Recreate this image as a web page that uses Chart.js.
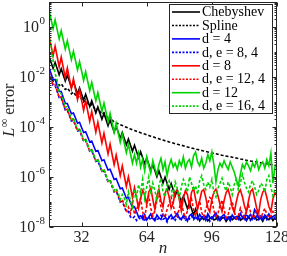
<!DOCTYPE html>
<html>
<head>
<meta charset="utf-8">
<script src="https://cdn.jsdelivr.net/npm/chart.js@4.4.1/dist/chart.umd.min.js"></script>
<style>
  html, body { margin: 0; padding: 0; background: #fff; overflow: hidden; }
  #wrap { width: 287px; height: 256px; }
</style>
</head>
<body>
<div id="wrap"><canvas id="chart" width="287" height="256"></canvas></div>
<script>
// n runs 16..128, one value per n; series stored as log10(error)
const nFirst = 16;
const xTicks = [32, 64, 96, 128];
const yTickExp = [0, -2, -4, -6, -8];

const chebLog = [
  -1.16,-1.41,-1.65,-1.42,-1.66,-1.91,-1.67,-1.92,-2.16,-1.93,
  -2.17,-2.42,-2.18,-2.43,-2.67,-2.44,-2.68,-2.93,-2.69,-2.94,
  -3.18,-2.95,-3.19,-3.44,-3.20,-3.45,-3.69,-3.46,-3.70,-3.95,
  -3.71,-3.96,-4.20,-3.97,-4.21,-4.46,-4.22,-4.47,-4.71,-4.48,
  -4.72,-4.97,-4.73,-4.98,-5.22,-4.99,-5.23,-5.48,-5.24,-5.49,
  -5.73,-5.50,-5.74,-5.99,-5.75,-6.00,-6.24,-6.01,-6.25,-6.50,
  -6.26,-6.51,-6.75,-6.52,-6.76,-7.01,-6.77,-7.02,-7.26,-7.03,
  -7.27,-7.52,-7.28,-7.53,-7.75,
  -7.62,-7.70,-7.58,-7.75,-7.66,-7.60,-7.72,-7.68,-7.57,-7.74,
  -7.65,-7.61,-7.78,-7.66,-7.59,-7.71,-7.64,-7.69,-7.56,-7.73,
  -7.67,-7.62,-7.75,-7.60,-7.70,-7.65,-7.58,-7.72,-7.68,-7.63,
  -7.77,-7.60,-7.66,-7.71,-7.59,-7.74,-7.64,-7.69
];
const splineLog = [
  -1.94,-2.06,-2.17,-2.11,-2.22,-2.34,-2.27,-2.39,-2.50,-2.44,
  -2.55,-2.67,-2.60,-2.72,-2.83,-2.77,-2.88,-3.00,-2.93,-3.05,
  -3.16,-3.10,-3.21,-3.33,-3.26,-3.38,-3.49,-3.43,-3.54,-3.66,
  -3.59,-3.72,
  -3.80,-3.84,-3.87,-3.91,-3.94,-3.98,-4.01,-4.04,-4.08,-4.11,
  -4.14,-4.17,-4.20,-4.23,-4.26,-4.28,-4.31,-4.34,-4.37,-4.39,
  -4.42,-4.45,-4.47,-4.50,-4.52,-4.55,-4.57,-4.60,-4.62,-4.64,
  -4.67,-4.69,-4.71,-4.73,-4.75,-4.78,-4.80,-4.82,-4.84,-4.86,
  -4.88,-4.90,-4.92,-4.94,-4.96,-4.98,-5.00,-5.02,-5.04,-5.05,
  -5.07,-5.09,-5.11,-5.13,-5.14,-5.16,-5.18,-5.19,-5.21,-5.23,
  -5.24,-5.26,-5.28,-5.29,-5.31,-5.33,-5.34,-5.36,-5.37,-5.39,
  -5.40,-5.42,-5.43,-5.45,-5.46,-5.48,-5.49,-5.50,-5.52,-5.53,
  -5.55
];
const d4Log = [
  -1.62,-1.86,-2.10,-2.10,-2.34,-2.58,-2.58,-2.82,-3.06,-3.06,
  -3.27,-3.47,-3.44,-3.64,-3.85,-3.81,-4.02,-4.22,-4.19,-4.39,
  -4.60,-4.56,-4.77,-4.97,-4.94,-5.14,-5.35,-5.31,-5.52,-5.72,
  -5.69,-5.89,-6.10,-6.06,-6.27,-6.47,-6.44,-6.64,-6.85,-6.81,
  -7.02,-7.22,-7.19,-7.39,-7.60,
  -7.55,-7.68,-7.50,-7.72,-7.60,-7.48,-7.66,-7.75,-7.52,-7.63,
  -7.70,-7.49,-7.58,-7.74,-7.62,-7.51,-7.67,-7.57,-7.45,-7.64,
  -7.71,-7.53,-7.60,-7.76,-7.55,-7.48,-7.65,-7.59,-7.70,-7.50,
  -7.62,-7.56,-7.73,-7.47,-7.61,-7.68,-7.54,-7.44,-7.63,-7.72,
  -7.57,-7.50,-7.66,-7.60,-7.75,-7.52,-7.64,-7.58,-7.69,-7.46,
  -7.62,-7.55,-7.71,-7.60,-7.50,-7.67,-7.30,-7.42,-7.63,-7.56,
  -7.70,-7.52,-7.61,-7.48,-7.66,-7.58,-7.54,-7.62
];
const de84Log = [
  -1.84,-2.09,-2.33,-2.34,-2.58,-2.83,-2.83,-3.08,-3.32,-3.33,
  -3.54,-3.76,-3.73,-3.95,-4.16,-4.14,-4.35,-4.57,-4.54,-4.76,
  -4.97,-4.95,-5.16,-5.38,-5.35,-5.57,-5.78,-5.76,-5.97,-6.19,
  -6.16,-6.38,-6.59,-6.57,-6.78,-7.00,-6.97,-7.19,-7.40,-7.38,
  -7.59,
  -7.66,-7.58,-7.74,-7.62,-7.70,-7.55,-7.78,-7.64,-7.60,-7.72,
  -7.57,-7.68,-7.75,-7.61,-7.53,-7.69,-7.65,-7.80,-7.59,-7.67,
  -7.62,-7.73,-7.56,-7.70,-7.64,-7.58,-7.76,-7.61,-7.68,-7.55,
  -7.71,-7.63,-7.59,-7.74,-7.66,-7.60,-7.69,-7.57,-7.77,-7.62,
  -7.65,-7.54,-7.72,-7.60,-7.68,-7.63,-7.75,-7.58,-7.66,-7.70,
  -7.61,-7.56,-7.73,-7.64,-7.59,-7.69,-7.48,-7.62,-7.74,-7.60,
  -7.67,-7.57,-7.71,-7.63,-7.58,-7.66,-7.72,-7.61,-7.65,-7.59,
  -7.68,-7.62
];
const d8Log = [
  -0.33,-0.75,-1.16,-0.77,-1.18,-1.60,-1.20,-1.62,-2.03,-1.64,
  -2.05,-2.47,-2.07,-2.49,-2.90,-2.51,-2.92,-3.34,-2.94,-3.36,
  -3.77,-3.38,-3.79,-4.21,-3.81,-4.23,-4.64,-4.25,-4.66,-5.08,
  -4.68,-5.10,-5.51,-5.12,-5.53,-5.95,-5.55,-5.97,-6.38,-5.99,
  -6.40,-6.82,-6.42,-6.84,-7.25,
  -6.85,-6.55,-6.70,-7.10,-6.60,-6.45,-6.90,-7.30,-6.75,-6.50,
  -6.95,-7.20,-6.65,-6.48,-6.80,-7.25,-7.05,-6.60,-6.52,-6.90,
  -7.35,-6.85,-6.55,-6.70,-7.15,-6.62,-6.45,-6.88,-7.28,-6.95,
  -6.58,-6.50,-6.82,-7.22,-7.40,-6.90,-6.60,-6.48,-6.75,-7.10,
  -7.38,-6.95,-6.62,-6.50,-6.80,-7.20,-7.42,-7.00,-6.65,-6.52,
  -6.78,-7.15,-7.40,-6.95,-6.58,-6.48,-6.85,-7.25,-7.45,-6.90,
  -6.60,-6.50,-6.82,-7.18,-7.38,-6.88,-6.62,-6.70
];
const de124Log = [
  -1.80,-2.05,-2.32,-2.30,-2.55,-2.82,-2.79,-3.05,-3.31,-3.29,
  -3.51,-3.75,-3.69,-3.92,-4.15,-4.10,-4.32,-4.56,-4.50,-4.73,
  -4.96,-4.91,-5.13,-5.37,-5.31,-5.54,-5.77,-5.72,-5.94,-6.18,
  -6.12,-6.35,-6.58,-6.52,-6.74,-6.98,-6.90,-7.12,-7.35,
  -7.20,-7.45,-7.05,-7.50,-7.30,-7.10,-6.85,-7.40,-7.60,-7.15,
  -6.75,-7.25,-7.55,-7.35,-6.90,-6.70,-7.20,-7.50,-7.62,-7.30,
  -7.05,-6.80,-7.15,-7.45,-7.58,-7.25,-6.95,-7.40,-7.65,-7.35,
  -7.10,-6.88,-7.30,-7.55,-7.20,-6.95,-7.42,-7.60,-7.28,-7.05,
  -6.82,-6.90,-7.35,-7.58,-7.45,-7.15,-6.92,-7.30,-7.62,-7.50,
  -7.20,-6.98,-7.38,-7.66,-7.55,-7.25,-7.48,-7.60,-7.35,-7.12,
  -7.40,-7.65,-7.58,-7.30,-7.52,-7.62,-7.45,-7.25,-7.50,-7.64,
  -7.55,-7.38,-7.48,-7.60
];
const d12Log = [
   0.69, 0.31,-0.07, 0.28,-0.10,-0.48,-0.14,-0.52,-0.89,-0.55,
  -0.93,-1.31,-0.97,-1.34,-1.72,-1.38,-1.76,-2.14,-1.79,-2.17,
  -2.55,-2.21,-2.59,-2.96,-2.62,-3.00,-3.38,-3.04,-3.41,-3.79,
  -3.45,-3.83,-4.21,-3.86,-4.24,-4.62,-4.28,-4.66,-5.03,-4.69,
  -5.07,-5.45,-5.11,
  -5.45,-5.05,-5.60,-5.30,-5.75,-5.20,-5.55,-5.85,-5.35,-5.65,
  -5.90,-5.50,-5.25,-5.70,-5.40,-5.95,-5.55,-5.30,-5.60,-5.45,
  -5.70,-5.35,-5.55,-5.20,-5.65,-5.40,-5.30,-5.60,-5.15,-5.00,
  -5.40,-5.55,-5.25,-5.65,-5.45,-5.10,-5.35,-5.00,-5.50,-6.20,
  -5.70,-5.45,-5.60,-5.35,-5.55,-5.70,-5.40,-5.60,-5.80,-6.10,
  -6.35,-5.90,-5.50,-5.65,-5.40,-5.55,-5.75,-5.45,-5.60,-5.35,
  -5.70,-5.50,-5.40,-5.65,-5.30,-5.55,-5.05,-6.25,-5.60,-5.45
];
const de164Log = [
  -0.30,-0.75,-1.35,-1.85,-2.15,-2.62,-2.66,-2.92,-3.20,-3.18,
  -3.43,-3.70,-3.64,-3.88,-4.12,-4.06,-4.30,-4.54,-4.47,-4.70,
  -4.94,-4.88,-5.11,-5.35,-5.28,-5.52,-5.75,-5.69,-5.92,-6.16,
  -6.10,-6.32,-6.55,-6.45,-6.65,-6.90,-6.70,-6.85,-7.10,-6.60,
  -6.95,-7.20,-6.50,-6.80,-6.30,
  -6.65,-6.10,-6.85,-6.40,-6.00,-6.70,-6.25,-6.55,-6.90,-6.35,
  -6.05,-6.60,-6.80,-6.30,-6.15,-6.50,-6.75,-6.20,-6.45,-6.85,
  -6.40,-6.10,-6.30,-6.60,-6.00,-6.25,-6.55,-6.35,-6.70,-6.15,
  -5.95,-6.30,-6.50,-6.20,-6.40,-6.10,-6.65,-6.80,-6.45,-6.25,
  -6.05,-6.35,-6.55,-6.20,-6.40,-6.70,-6.30,-6.10,-6.50,-6.25,
  -5.90,-6.20,-6.45,-6.60,-6.30,-6.15,-6.40,-6.70,-6.55,-6.25,
  -6.35,-6.60,-6.10,-5.95,-6.40,-6.75,-6.50,-6.30
];

const seriesNames = ['Chebyshev', 'Spline', 'd = 4', 'd, e = 8, 4', 'd = 8', 'd, e = 12, 4', 'd = 12', 'd, e = 16, 4'];
const seriesLogs = [chebLog, splineLog, d4Log, de84Log, d8Log, de124Log, d12Log, de164Log];
const seriesColors = ['#000000', '#000000', '#0000ff', '#0000ff', '#ff0000', '#ff0000', '#00d400', '#00d400'];
const seriesDashed = [false, true, false, true, false, true, false, true];

const axisColor = '#262626';
const serif = '"Liberation Serif", "DejaVu Serif", serif';

function toPoints(arr) { return arr.map((v, i) => ({ x: nFirst + i, y: Math.pow(10, v) })); }

const datasets = seriesLogs.map((arr, i) => ({
  label: seriesNames[i],
  data: toPoints(arr),
  borderColor: seriesColors[i],
  borderWidth: 1.6,
  borderDash: seriesDashed[i] ? [3, 2] : [],
  pointRadius: 0,
  tension: 0,
  fill: false,
  order: seriesLogs.length - i   // last plotted on top, like the original
}));

const framePlugin = {
  id: 'frame',
  afterDatasetsDraw(chart) {
    const { ctx, chartArea: a, scales: { x, y } } = chart;
    const L = Math.round(a.left) + 0.5, R = Math.round(a.right) - 0.5;
    const T = Math.round(a.top) + 0.5, B = Math.round(a.bottom) - 0.5;
    ctx.save();
    ctx.strokeStyle = axisColor; ctx.lineWidth = 1; ctx.setLineDash([]);
    ctx.beginPath();
    xTicks.forEach(v => {
      const px = Math.round(x.getPixelForValue(v)) + 0.5;
      ctx.moveTo(px, B); ctx.lineTo(px, B - 4);
      ctx.moveTo(px, T); ctx.lineTo(px, T + 4);
    });
    for (let e = -8; e <= 0; e++) {
      for (let k = 1; k <= 9; k++) {
        const v = k * Math.pow(10, e);
        if (v > 10) continue;
        const py = Math.round(y.getPixelForValue(v)) + 0.5;
        const len = (k === 1 && yTickExp.includes(e)) ? 4 : 2;
        ctx.moveTo(L, py); ctx.lineTo(L + len, py);
        ctx.moveTo(R, py); ctx.lineTo(R - len, py);
      }
    }
    ctx.stroke();
    ctx.strokeRect(L, T, R - L, B - T);
    ctx.restore();
  },
  afterDraw(chart) {
    const { ctx, chartArea: a, scales: { x, y } } = chart;
    ctx.save();
    ctx.fillStyle = axisColor;
    // x tick labels
    ctx.font = '16px ' + serif;
    ctx.textAlign = 'center'; ctx.textBaseline = 'middle';
    xTicks.forEach(v => ctx.fillText(String(v), x.getPixelForValue(v), a.bottom + 11));
    // y tick labels 10^e
    yTickExp.forEach(e => {
      const py = y.getPixelForValue(Math.pow(10, e));
      const sup = String(e);
      ctx.font = '11px ' + serif;
      const w2 = ctx.measureText(sup).width;
      const xEnd = a.left - 4;
      ctx.textAlign = 'left'; ctx.textBaseline = 'middle';
      ctx.fillText(sup, xEnd - w2, py - 6);
      ctx.font = '16px ' + serif;
      ctx.textAlign = 'right';
      ctx.fillText('10', xEnd - w2 - 0.5, py + 1);
    });
    // x title
    ctx.font = 'italic 17px ' + serif;
    ctx.textAlign = 'center'; ctx.textBaseline = 'middle';
    ctx.fillText('n', (a.left + a.right) / 2, a.bottom + 22);
    // y title  L^inf error
    ctx.save();
    ctx.translate(10, (a.top + a.bottom) / 2 - 4);
    ctx.rotate(-Math.PI / 2);
    ctx.textBaseline = 'middle'; ctx.textAlign = 'left';
    ctx.font = 'italic 16px ' + serif; const wL = ctx.measureText('L').width;
    ctx.font = '12px ' + serif; const wI = ctx.measureText('\u221E').width;
    ctx.font = '16px ' + serif; const wE = ctx.measureText(' error').width;
    let cx = -(wL + wI + wE) / 2;
    ctx.font = 'italic 16px ' + serif; ctx.fillText('L', cx, 0); cx += wL + 0.5;
    ctx.font = '12px ' + serif; ctx.fillText('\u221E', cx, -5); cx += wI;
    ctx.font = '16px ' + serif; ctx.fillText(' error', cx, 0);
    ctx.restore();
    // legend box
    const bx = 169, by = 4, bw = 103, bh = 109;
    ctx.fillStyle = '#fff'; ctx.fillRect(bx, by, bw, bh);
    ctx.strokeStyle = axisColor; ctx.lineWidth = 1;
    ctx.strokeRect(bx + 0.5, by + 0.5, bw, bh);
    ctx.font = '14px ' + serif; ctx.textAlign = 'left'; ctx.textBaseline = 'middle';
    seriesNames.forEach((name, i) => {
      const ly = by + 8 + i * 13.45;
      ctx.strokeStyle = seriesColors[i]; ctx.lineWidth = 1.6;
      ctx.setLineDash(seriesDashed[i] ? [2, 1.5] : []);
      ctx.beginPath(); ctx.moveTo(bx + 3, ly); ctx.lineTo(bx + 31, ly); ctx.stroke();
      ctx.setLineDash([]);
      ctx.fillStyle = '#000'; ctx.fillText(name, bx + 33, ly + 0.5);
    });
    ctx.restore();
  }
};

new Chart(document.getElementById('chart'), {
  type: 'line',
  data: { datasets },
  options: {
    responsive: false,
    devicePixelRatio: 1,
    animation: false,
    layout: { padding: { top: 2, right: 10, left: 0, bottom: 0 } },
    plugins: { legend: { display: false }, tooltip: { enabled: false } },
    scales: {
      x: {
        type: 'linear', min: 16, max: 128,
        grid: { display: false }, border: { display: false },
        ticks: { display: false },
        afterBuildTicks: s => { s.ticks = xTicks.map(v => ({ value: v })); },
        afterFit: s => { s.height = 29; }
      },
      y: {
        type: 'logarithmic', min: 1e-8, max: 10,
        grid: { display: false }, border: { display: false },
        ticks: { display: false },
        afterFit: s => { s.width = 49; }
      }
    }
  },
  plugins: [framePlugin]
});
</script>
</body>
</html>
